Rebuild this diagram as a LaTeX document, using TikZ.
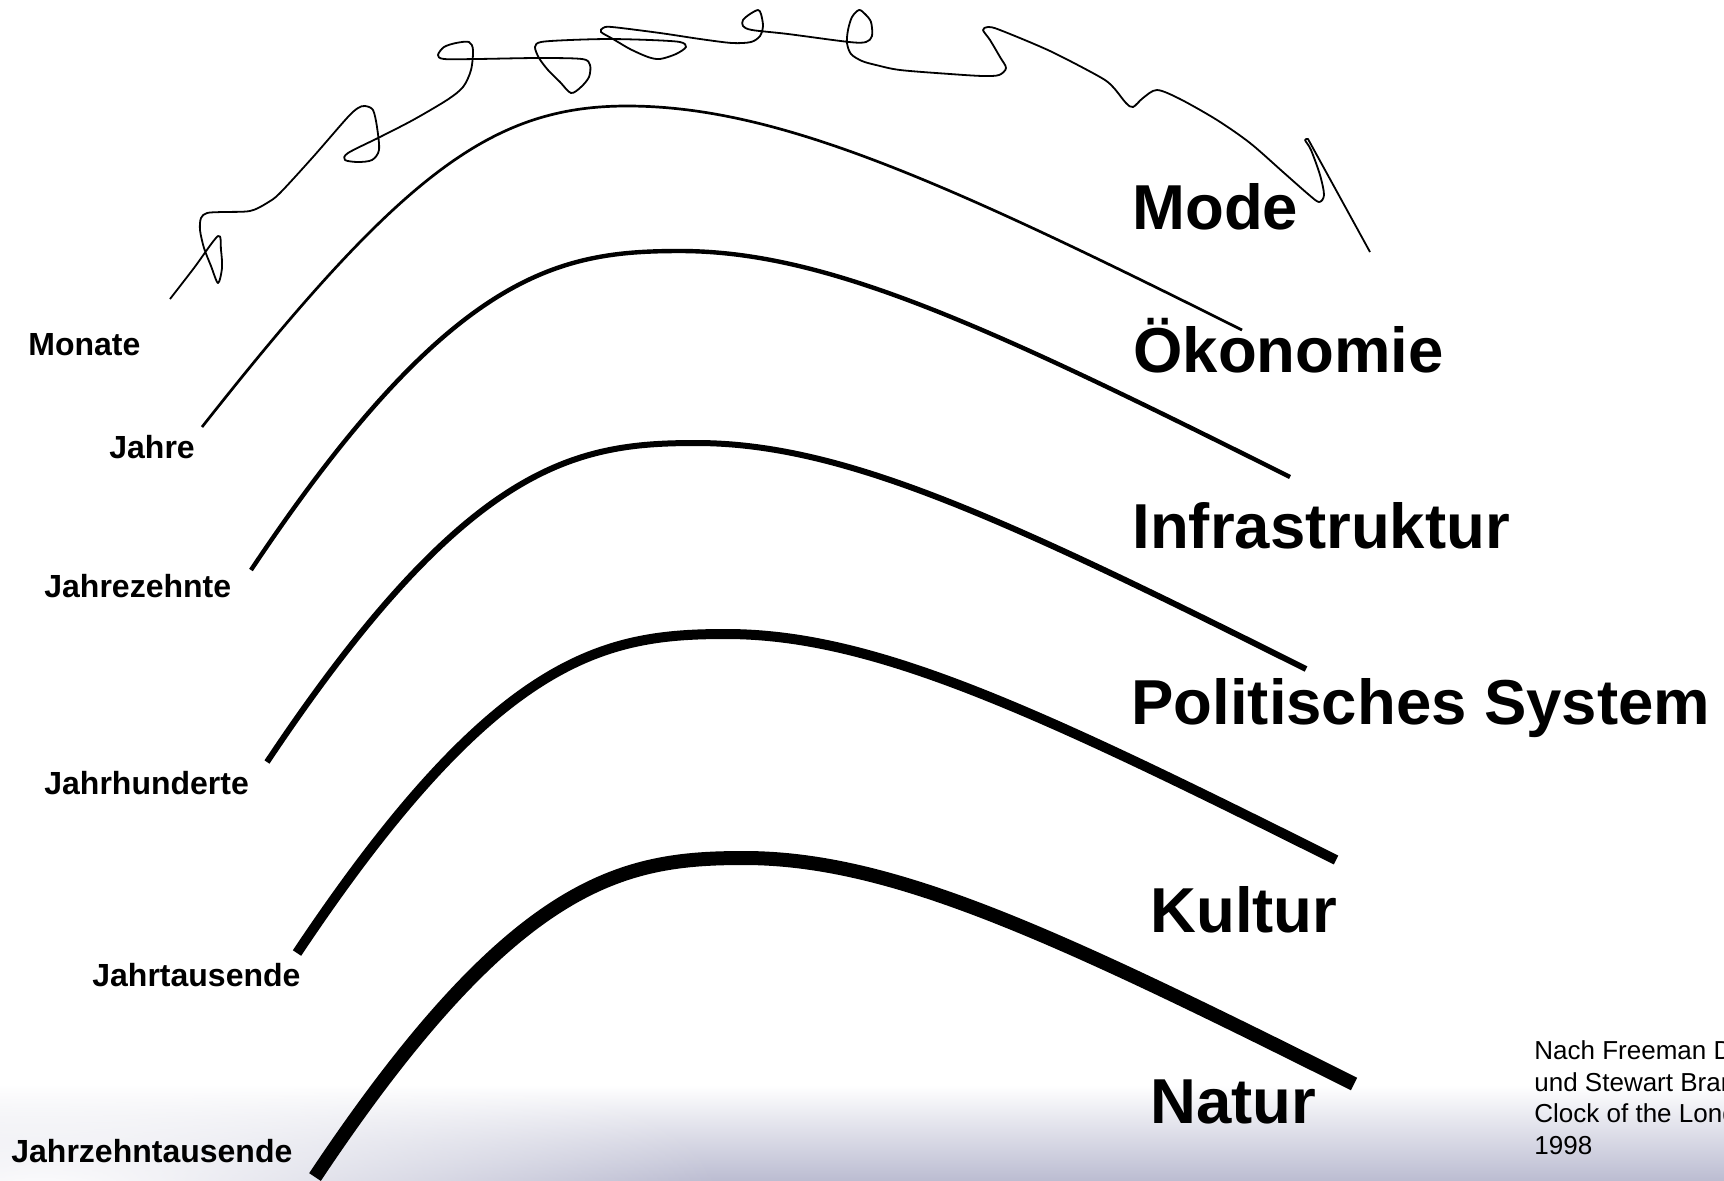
\documentclass[tikz,border=0pt]{standalone}
\usepackage{fontspec}
\setmainfont{Liberation Sans}
\usetikzlibrary{fadings}
\definecolor{gradbot}{RGB}{188,189,210}
\definecolor{gradmid}{RGB}{232,232,239}
\tikzfading[name=softspot, inner color=transparent!0, outer color=transparent!100]
\tikzset{
  bigtext/.style={anchor=base west, inner sep=0pt, font=\fontsize{31.75}{38}\selectfont\bfseries},
  smalltext/.style={anchor=base west, inner sep=0pt, font=\fontsize{16}{19}\selectfont\bfseries},
  citetext/.style={anchor=base west, inner sep=0pt, font=\fontsize{13}{16}\selectfont},
  arcline/.style={line join=round},
  scribble/.style={line width=0.9pt, line join=round},
}
\begin{document}
\begin{tikzpicture}[x=0.5pt, y=-0.5pt]
\useasboundingbox (0,0) rectangle (1724,1180);
% background gradient at the bottom
\shade[top color=white, middle color=gradmid, bottom color=gradbot] (0,1085) rectangle (1724,1180);
\fill[white, path fading=softspot] (40,1195) ellipse [x radius=680, y radius=190];

% Mode arc (thinnest)
\draw[arcline, line width=1.35pt] (202,427) .. controls (402,173) and (492,106) .. (627,106)
  .. controls (777,106) and (942,180) .. (1242,330);

% remaining arcs, same shape shifted
\foreach \dx/\dy/\w in {0/0/2.2, 16/192/3.0, 46/383/5.0, 64/607/7.0} {
  \draw[arcline, line width=\w pt, shift={(\dx,\dy)}] (251,570) .. controls (451,270) and (560,251) .. (680,251)
    .. controls (828,251) and (990,327) .. (1290,477);
}

% fashion scribble
\draw[scribble] plot[smooth, tension=0.5] coordinates {
  (170,299) (194,268) (218,236) (221,250) (222,268) (218,283) (211,266) (204,248)
  (200,230) (201,218) (207,213) (222,212) (250,211) (267,203) (280,193) (313,157)
  (347,118) (358,108) (365,106) (373,110) (377,127) (379,150) (372,160) (358,162)
  (345,160) (348,153) (380,137) (413,120) (447,100) (463,87) (471,70) (473,50) (469,42)
  (456,43) (444,47) (438,55) (444,59) (477,59) (538,58) (582,59) (590,65) (589,77)
  (581,87) (571,93) (560,82) (548,70) (539,58) (535,47) (541,42) (570,40) (609,39)
  (650,40) (680,42) (686,47) (676,54) (660,59) (648,57) (630,49) (613,39) (601,32)
  (603,28) (612,27) (660,33) (700,39) (732,43) (751,42) (760,36) (763,26) (761,14)
  (758,10) (750,14) (743,20) (743,26) (752,30) (788,34) (849,42) (866,42) (872,36)
  (871,22) (865,14) (859,10) (852,17) (848,30) (847,43) (851,54) (862,61) (876,65)
  (900,70) (950,74) (983,76) (999,75) (1006,68) (1000,57) (990,40) (983,30) (988,27)
  (1000,30) (1050,51) (1100,77) (1113,87) (1126,103) (1133,107) (1143,98) (1157,90)
  (1180,99) (1217,120) (1250,143) (1283,172) (1308,194) (1319,202) (1324,195)
  (1320,175) (1311,150) (1305,140) (1308,139)} -- (1370,252);

% right-hand labels
\node[bigtext] (mode) at (1132,229) {Mode};
\node[bigtext] (oekonomie) at (1133,372) {Ökonomie};
\node[bigtext] (infra) at (1132,548) {Infrastruktur};
\node[bigtext] (politik) at (1131,724) {Politisches System};
\node[bigtext] (kultur) at (1150,932) {Kultur};
\node[bigtext] (natur) at (1150,1123) {Natur};

% left-hand time scales
\node[smalltext] (monate) at (28,355) {Monate};
\node[smalltext] (jahre) at (109,458) {Jahre};
\node[smalltext] (jzehnte) at (44,597) {Jahrezehnte};
\node[smalltext] (jhunderte) at (44,794) {Jahrhunderte};
\node[smalltext] (jtausende) at (92,986) {Jahrtausende};
\node[smalltext] (jztausende) at (11,1162) {Jahrzehntausende};

% source
\node[citetext] (src1) at (1534,1059) {Nach Freeman Dyson};
\node[citetext] (src2) at (1534,1091) {und Stewart Brand:};
\node[citetext] (src3) at (1534,1122.5) {Clock of the Long Now};
\node[citetext] (src4) at (1534,1154) {1998};
\end{tikzpicture}
\end{document}
